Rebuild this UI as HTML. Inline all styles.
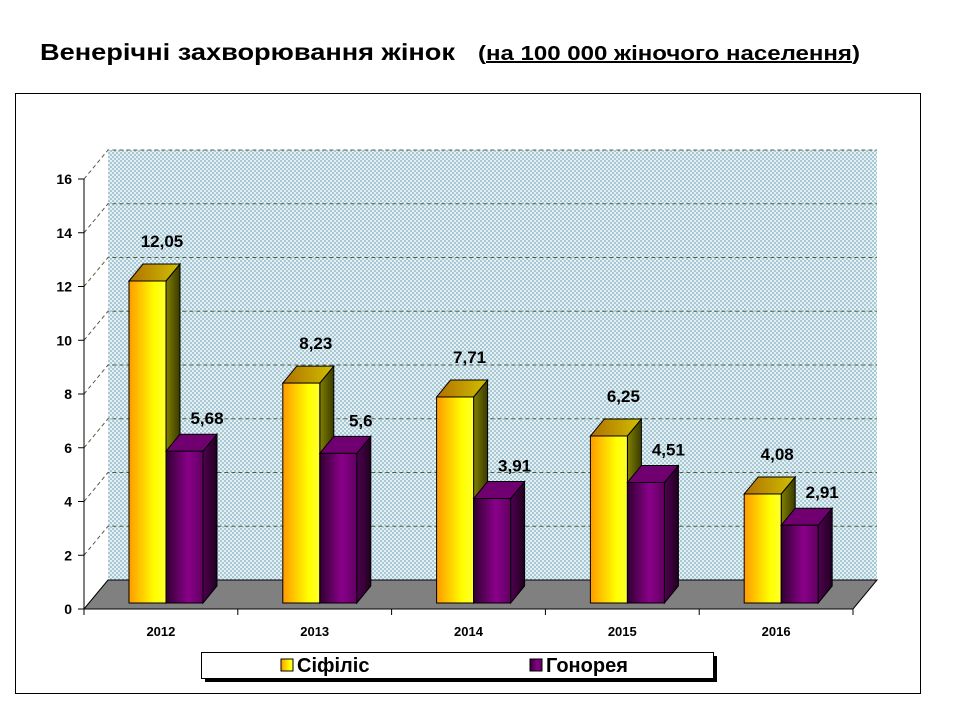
<!DOCTYPE html>
<html><head><meta charset="utf-8"><style>
body{margin:0;background:#fff;width:960px;height:720px;overflow:hidden;font-family:"Liberation Sans",sans-serif}
</style></head><body>
<svg width="960" height="720" xmlns="http://www.w3.org/2000/svg" font-family="Liberation Sans, sans-serif">
<defs>
<pattern id="dots" width="4" height="4" patternUnits="userSpaceOnUse"><rect width="4" height="4" fill="#e4f0f4"/><rect width="2" height="2" fill="#a8c8d4"/><rect x="2" y="2" width="2" height="2" fill="#a8c8d4"/></pattern>
<linearGradient id="gY" x1="0" x2="1"><stop offset="0" stop-color="#ff9a00"/><stop offset="0.7" stop-color="#ffff00"/><stop offset="1" stop-color="#ffff30"/></linearGradient>
<linearGradient id="gYs" x1="0" x2="1"><stop offset="0" stop-color="#808000"/><stop offset="1" stop-color="#3a3a00"/></linearGradient>
<linearGradient id="gYt" x1="0" x2="1"><stop offset="0" stop-color="#b07000"/><stop offset="1" stop-color="#d0c000"/></linearGradient>
<linearGradient id="gP" x1="0" x2="1"><stop offset="0" stop-color="#300030"/><stop offset="0.6" stop-color="#8a008a"/><stop offset="1" stop-color="#600060"/></linearGradient>
<linearGradient id="gPs" x1="0" x2="1"><stop offset="0" stop-color="#500050"/><stop offset="1" stop-color="#200020"/></linearGradient>
</defs>
<text x="40" y="60" font-size="23" font-weight="bold" textLength="415" lengthAdjust="spacingAndGlyphs">Венерічні захворювання  жінок</text>
<text x="478" y="60" font-size="20" font-weight="bold" textLength="382" lengthAdjust="spacingAndGlyphs">(<tspan text-decoration="underline">на 100 000 жіночого населення</tspan>)</text>
<rect x="15.5" y="93.5" width="905" height="600" fill="none" stroke="#000"/>
<g id="grid"></g>
<g id="bars"></g>
<g id="axes"></g>
<g>
<rect x="205" y="656" width="512" height="26" fill="#000"/>
<rect x="201.5" y="652.5" width="512" height="26" fill="#fff" stroke="#000"/>
<rect x="281" y="659" width="12" height="12" fill="url(#gY)" stroke="#000"/>
<text x="297" y="672" font-size="20" font-weight="bold">Сіфіліс</text>
<rect x="530" y="659" width="12" height="12" fill="url(#gP)" stroke="#000"/>
<text x="546" y="672" font-size="20" font-weight="bold">Гонорея</text>
</g>
</svg>
<script>
const categories=["2012","2013","2014","2015","2016"];
const syphilis=[12.05,8.23,7.71,6.25,4.08];
const gonorrhea=[5.68,5.6,3.91,4.51,2.91];
const syphilisLabels=["12,05","8,23","7,71","6,25","4,08"];
const gonorrheaLabels=["5,68","5,6","3,91","4,51","2,91"];
const yTicks=[0,2,4,6,8,10,12,14,16];
const NS="http://www.w3.org/2000/svg";
const X0=84,X1=853,Y0=609,DX=24,DY=-29,YMAX=16,BASE=603;
const sc=(609-179)/16;
const y=v=>Y0-v*sc;
const bw=(X1-X0)/categories.length;
function mk(t,a,p){const e=document.createElementNS(NS,t);for(const k in a)e.setAttribute(k,a[k]);p.appendChild(e);return e;}
const grid=document.getElementById('grid'),bars=document.getElementById('bars'),axes=document.getElementById('axes');
const wall=mk('polygon',{points:`${X0},${y(0)} ${X0+DX},${y(0)+DY} ${X0+DX},${y(YMAX)+DY} ${X1+DX},${y(YMAX)+DY} ${X1+DX},${y(0)+DY}`,fill:'url(#dots)'},grid);


yTicks.forEach(t=>{if(t===0)return;
 const l=mk('polyline',{points:`${X0},${y(t)} ${X0+DX},${y(t)+DY} ${X1+DX},${y(t)+DY}`,fill:'none',stroke:'#506040','stroke-dasharray':'4,3'},grid);
 
 
});
const floor=mk('polygon',{points:`${X0},${Y0} ${X0+DX},${Y0+DY} ${X1+DX},${Y0+DY} ${X1},${Y0}`,fill:'#808080',stroke:'#000'},grid);


const bsc=(BASE-281)/12.05;
function bar(x,w,v,fr,sd,tp,name,lbl,lx,off){
 const g=mk('g',{},bars);
 
 
 const top=BASE-v*bsc,dx=14,dy=-17;
 mk('polygon',{points:`${x+w},${BASE} ${x+w+dx},${BASE+dy} ${x+w+dx},${top+dy} ${x+w},${top}`,fill:sd,stroke:'#000'},g);
 mk('polygon',{points:`${x},${top} ${x+dx},${top+dy} ${x+w+dx},${top+dy} ${x+w},${top}`,fill:tp,stroke:'#000'},g);
 mk('rect',{x:x,y:top,width:w,height:BASE-top,fill:fr,stroke:'#000'},g);
 const t=mk('text',{x:lx,y:top-off,'font-size':17,'font-weight':'bold','text-anchor':'middle'},bars);
 t.textContent=lbl;
 
 
}
categories.forEach((c,i)=>{
 const cx=X0+i*bw;
 bar(cx+45,37,syphilis[i],'url(#gY)','url(#gYs)','url(#gYt)','bar-syphilis-'+c,syphilisLabels[i],cx+45+33,34);
 bar(cx+82,37,gonorrhea[i],'url(#gP)','url(#gPs)','#700070','bar-gonorrhea-'+c,gonorrheaLabels[i],cx+82+41,27);
 const t=mk('text',{x:cx+bw/2,y:Y0+27,'font-size':13,'font-weight':'bold','text-anchor':'middle'},axes);
 t.textContent=c;
 
 
 mk('line',{x1:cx+bw,y1:Y0,x2:cx+bw,y2:Y0+6,stroke:'#000'},axes);
});
mk('line',{x1:X0,y1:y(0),x2:X0,y2:y(YMAX),stroke:'#000'},axes);
mk('line',{x1:X0,y1:Y0,x2:X1,y2:Y0,stroke:'#000'},axes);
mk('line',{x1:X0,y1:Y0,x2:X0,y2:Y0+6,stroke:'#000'},axes);
yTicks.forEach(t=>{
 mk('line',{x1:X0-6,y1:y(t),x2:X0,y2:y(t),stroke:'#000'},axes);
 const e=mk('text',{x:X0-12,y:y(t)+5,'font-size':14,'font-weight':'bold','text-anchor':'end'},axes);
 e.textContent=t;
 
 
});
</script>
</body></html>
